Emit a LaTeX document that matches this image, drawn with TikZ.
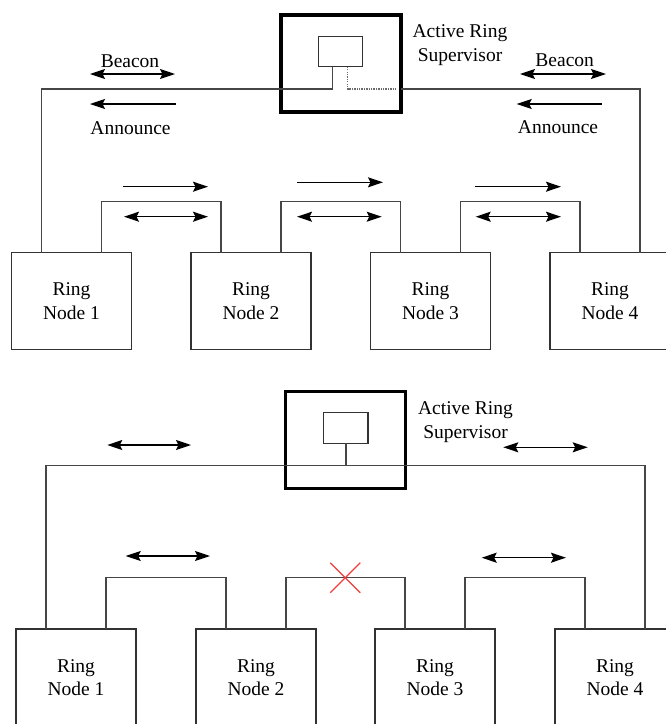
\documentclass[tikz,border=0pt]{standalone}
\usepackage{fontspec}
\setmainfont{Liberation Serif}
\usetikzlibrary{arrows.meta,calc}
\definecolor{wire}{RGB}{70,70,70}
\definecolor{boxline}{RGB}{50,50,50}
\definecolor{breakred}{RGB}{240,60,60}
\tikzset{
  ringnode/.style={draw=boxline,line width=1.4pt,minimum width=120pt,minimum height=97pt,
    inner sep=0pt,outer sep=0pt,align=center,font=\fontsize{19.5}{23.3}\selectfont},
  supbox/.style={draw=black,line width=3.4pt,minimum width=120pt,minimum height=97pt,
    inner sep=0pt,outer sep=0pt},
  unitbox/.style={draw=boxline,line width=1.4pt,minimum width=44.5pt,minimum height=30pt,
    inner sep=0pt,outer sep=0pt},
  wireline/.style={draw=wire,line width=1.5pt},
  dotline/.style={draw=wire!80,line width=1.4pt,dash pattern=on 1.3pt off 1.1pt},
  lbl/.style={inner sep=0pt,anchor=base,font=\fontsize{19.5}{23.3}\selectfont},
  suplbl/.style={inner sep=0pt,align=center,font=\fontsize{19.5}{24}\selectfont},
  tip/.tip={Stealth[length=15pt,width=10pt,inset=2.5pt]},
  onearrow/.style={-tip,line width=1.3pt,black},
  twoarrow/.style={tip-tip,line width=1.3pt,black},
}
\begin{document}
\begin{tikzpicture}[x=1pt,y=-1pt]
\useasboundingbox (0,0) rectangle (666,724);

% ---------- upper ring: normal operation ----------
\node[supbox]  (tsup) at (340.8,63.6) {};
\node[unitbox] (tunit) at (340.5,51.7) {};
\node[suplbl]  (tsuptext) at (460,45) {Active Ring\\Supervisor};

\node[ringnode] (t1) at (71.5,301)  {Ring\\Node 1};
\node[ringnode] (t2) at (251,301)   {Ring\\Node 2};
\node[ringnode] (t3) at (430.5,301) {Ring\\Node 3};
\node[ringnode] (t4) at (610,301)   {Ring\\Node 4};

\coordinate (tring) at (0,89);
\coordinate (tlink) at (0,201.7);
\coordinate (tuL) at ([xshift=-7.8pt]tunit.south);
\coordinate (tuR) at ([xshift=7.2pt]tunit.south);
\coordinate (tdotend) at (397,89);

% ring trunk through the supervisor
\draw[wireline] ([xshift=-30pt]t1.north) |- (tuL |- tring) -- (tuL);
\draw[dotline] (tuR) -- (tuR |- tring) -- (tdotend);
\draw[wireline] (tsup.east |- tring) -| ([xshift=30pt]t4.north);

% links between neighbouring nodes
\draw[wireline] ([xshift=30pt]t1.north) |- ([xshift=-30pt]t2.north |- tlink) -- ([xshift=-30pt]t2.north);
\draw[wireline] ([xshift=30pt]t2.north) |- ([xshift=-30pt]t3.north |- tlink) -- ([xshift=-30pt]t3.north);
\draw[wireline] ([xshift=30pt]t3.north) |- ([xshift=-30pt]t4.north |- tlink) -- ([xshift=-30pt]t4.north);

% beacon / announce frames
\node[lbl] (tbeacL) at (130,67) {Beacon};
\node[lbl] (tannL)  at (130.5,134) {Announce};
\node[lbl] (tbeacR) at (564.7,66.7) {Beacon};
\node[lbl] (tannR)  at (558,133) {Announce};
\draw[twoarrow] (90,74) -- (175,74);
\draw[onearrow] (175.7,104) -- (90,104);
\draw[twoarrow] (520,74) -- (606,74);
\draw[onearrow] (601.7,104) -- (516.7,104);

\draw[onearrow] (123,186.7) -- (208,186.7);
\draw[twoarrow] (124,216.7) -- (208,216.7);
\draw[onearrow] (297,182.3) -- (383,182.3);
\draw[twoarrow] (297,216.7) -- (381.7,216.7);
\draw[onearrow] (475,186.7) -- (561,186.7);
\draw[twoarrow] (475.7,216.7) -- (561,216.7);

% ---------- lower ring: interrupted link ----------
\node[supbox]  (bsup) at (345.7,439.7) {};
\node[unitbox,minimum height=31pt] (bunit) at (345.8,427.8) {};
\node[suplbl]  (bsuptext) at (465.5,422.5) {Active Ring\\Supervisor};

\node[ringnode] (b1) at (76,677.5)  {Ring\\Node 1};
\node[ringnode] (b2) at (256,677.5) {Ring\\Node 2};
\node[ringnode] (b3) at (435,677.5) {Ring\\Node 3};
\node[ringnode] (b4) at (615,677.5) {Ring\\Node 4};

\coordinate (bring) at (0,465.7);
\coordinate (blink) at (0,577.7);

\draw[wireline] ([xshift=-30pt]b1.north) |- ([xshift=30pt]b4.north |- bring) -- ([xshift=30pt]b4.north);
\draw[wireline] (bunit.south) -- (bunit.south |- bring);

\draw[wireline] ([xshift=30pt]b1.north) |- ([xshift=-30pt]b2.north |- blink) -- ([xshift=-30pt]b2.north);
\draw[wireline] ([xshift=30pt]b2.north) |- ([xshift=-30pt]b3.north |- blink) -- ([xshift=-30pt]b3.north);
\draw[wireline] ([xshift=30pt]b3.north) |- ([xshift=-30pt]b4.north |- blink) -- ([xshift=-30pt]b4.north);

% break marker on the middle link
\coordinate (cut) at (345.3,577.7);
\draw[breakred,line width=1.2pt] ($(cut)+(-15,-15)$) -- ($(cut)+(15,15)$);
\draw[breakred,line width=1.2pt] ($(cut)+(-15,15)$) -- ($(cut)+(15,-15)$);

\draw[twoarrow] (107.3,445) -- (191,445);
\draw[twoarrow] (503.3,447.3) -- (587.7,447.3);
\draw[twoarrow] (125.7,556) -- (210,556);
\draw[twoarrow] (481.7,557.7) -- (566,557.7);
\end{tikzpicture}
\end{document}
